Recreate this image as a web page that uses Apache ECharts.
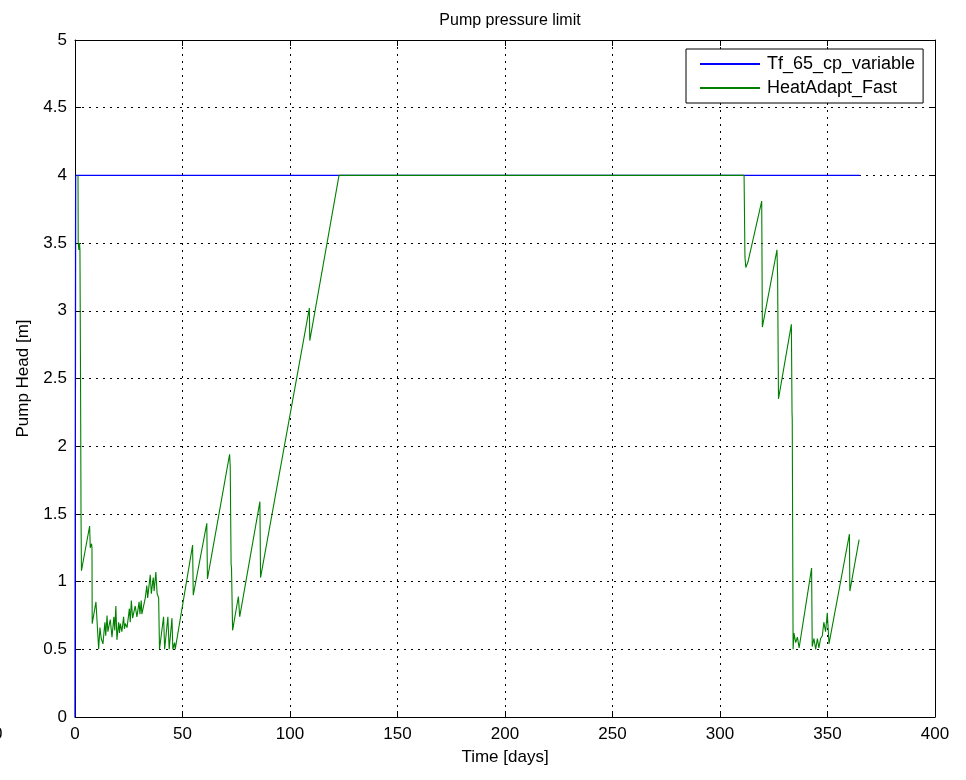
<!DOCTYPE html>
<html><head><meta charset="utf-8">
<script src="https://cdn.jsdelivr.net/npm/echarts@6/dist/echarts.min.js"></script>
<style>html,body{margin:0;padding:0;background:#fff}#c{width:966px;height:780px}</style>
</head><body><div id="c"></div>
<script>
// ---- data ----
const titleText = 'Pump pressure limit';
const xName = 'Time [days]';
const yName = 'Pump Head [m]';
const seriesNames = ['Tf_65_cp_variable', 'HeatAdapt_Fast'];

const blueDays = [0, 0.3, 365];
const blueVals = [0, 4, 4];

const greenDays = [1.4, 1.5, 1.8, 2.1, 2.3, 2.6, 2.8, 3.0,
  6.8, 7.1, 7.7, 7.9, 8.0,
  9.75, 11.0, 11.6, 12.2, 13.0, 13.9, 14.3, 14.9, 15.3, 16.4, 17.2, 18.1, 18.5, 19.0, 19.5,
  20.3, 20.7, 21.1, 21.8, 22.6, 23.0, 23.4, 24.2, 25.3, 25.7, 26.2, 26.8, 28.0, 28.8, 29.8, 30.2, 30.8, 31.1,
  32.7, 33.4, 33.8, 35.0, 35.5, 36.4, 36.8, 37.6, 38.2, 38.9, 39.3,
  41.2, 41.7, 43.2, 43.8, 45.1, 45.5, 46.3, 46.6,
  54.7, 55.0, 61.3, 61.6, 71.9, 72.2, 72.6, 72.8, 73.3,
  76.0, 76.6, 86.0, 86.3, 109.0, 109.2, 122.8,
  311.2, 311.6, 312.0, 313.0, 319.4, 319.7, 326.5, 326.8, 327.2,
  333.2, 333.5, 333.6, 334.0, 334.4, 335.2, 336.0, 336.8,
  342.6, 342.9, 343.7, 344.5, 345.3, 346.0, 346.8, 347.6, 348.3, 349.1, 349.9, 350.7,
  360.2, 360.4, 364.7];
const greenVals = [4.0, 3.5, 3.45, 3.5, 3.45, 2.4, 1.5, 1.08,
  1.41, 1.25, 1.28, 1.25, 0.69,
  0.85, 0.5, 0.66, 0.58, 0.54, 0.70, 0.60, 0.75, 0.63, 0.72, 0.59, 0.74, 0.64, 0.82, 0.57,
  0.70, 0.62, 0.69, 0.63, 0.74, 0.65, 0.69, 0.66, 0.80, 0.70, 0.86, 0.73, 0.82, 0.74, 0.85, 0.76, 0.86, 0.76,
  0.88, 0.97, 0.88, 1.05, 0.91, 1.03, 0.93, 1.07, 0.91, 0.88, 0.5,
  0.74, 0.5, 0.74, 0.5, 0.73, 0.5, 0.55, 0.5,
  1.27, 0.90, 1.43, 1.02, 1.94, 1.85, 1.13, 1.10, 0.64,
  0.89, 0.74, 1.59, 1.03, 3.02, 2.78, 4.0,
  4.0, 3.4, 3.32, 3.36, 3.81, 2.88, 3.45, 3.25, 2.35,
  2.9, 2.25, 2.2, 0.5, 0.62, 0.55, 0.59, 0.51,
  1.10, 0.52, 0.58, 0.5, 0.58, 0.51, 0.58, 0.6, 0.7, 0.63, 0.77, 0.54,
  1.35, 0.93, 1.31];

const xMin = 0, xMax = 400, xStep = 50;
const yMin = 0, yMax = 5, yStep = 0.5;

// ---- chart ----
const FONT = '"Liberation Sans", Arial, sans-serif';
const FS = 17;
const zip = (a, b) => a.map((v, i) => [v, b[i]]);

const chart = echarts.init(document.getElementById('c'), null, {renderer: 'canvas'});

const gridDots = {show: true, lineStyle: {color: '#000', width: 1, type: [2, 5]}};
const baseLine = {show: true, onZero: false, lineStyle: {color: '#000', width: 1}};
const tick = {show: true, inside: true, length: 6, lineStyle: {color: '#000', width: 1}};

chart.setOption({
  animation: false,
  backgroundColor: '#fff',
  title: {
    text: titleText, left: 505, top: 8, textAlign: 'center',
    textStyle: {fontFamily: FONT, fontSize: 16, fontWeight: 'normal', color: '#000'}
  },
  legend: {
    orient: 'vertical', left: 686, top: 49,
    padding: [6, 8, 6, 14], itemGap: 6,
    itemWidth: 60, itemHeight: 2, icon: 'rect',
    borderColor: '#000', borderWidth: 1, backgroundColor: '#fff',
    textStyle: {fontFamily: FONT, fontSize: 18, color: '#000', padding: [0, 0, 0, 2]},
    data: seriesNames
  },
  grid: {left: 75, right: 31, top: 40, bottom: 63, containLabel: false},
  xAxis: [{
    type: 'value', min: xMin, max: xMax, interval: xStep, position: 'bottom',
    axisLine: baseLine, axisTick: tick, splitLine: gridDots,
    axisLabel: {color: '#000', fontFamily: FONT, fontSize: FS, margin: 9},
    name: xName, nameLocation: 'middle', nameGap: 32,
    nameTextStyle: {color: '#000', fontFamily: FONT, fontSize: FS}
  }, {
    type: 'value', min: xMin, max: xMax, interval: xStep, position: 'top',
    axisLine: baseLine, axisTick: tick, splitLine: {show: false},
    axisLabel: {show: false}
  }],
  yAxis: [{
    type: 'value', min: yMin, max: yMax, interval: yStep, position: 'left',
    axisLine: baseLine, axisTick: tick, splitLine: gridDots,
    axisLabel: {color: '#000', fontFamily: FONT, fontSize: FS, margin: 8},
    name: yName, nameLocation: 'middle', nameGap: 43, nameRotate: 90,
    nameTextStyle: {color: '#000', fontFamily: FONT, fontSize: FS}
  }, {
    type: 'value', min: yMin, max: yMax, interval: yStep, position: 'right',
    axisLine: baseLine, axisTick: tick, splitLine: {show: false},
    axisLabel: {show: false}
  }],
  graphic: [{
    type: 'text', left: -7, top: 726,
    style: {text: '0', fontFamily: FONT, fontSize: FS, fill: '#000'}
  }],
  series: [{
    name: seriesNames[0], type: 'line', data: zip(blueDays, blueVals),
    showSymbol: false, symbol: 'none', color: '#0000ff',
    lineStyle: {color: '#0000ff', width: 1.3}
  }, {
    name: seriesNames[1], type: 'line', data: zip(greenDays, greenVals),
    showSymbol: false, symbol: 'none', color: '#008000',
    lineStyle: {color: '#008000', width: 1.1}
  }]
});
</script>
</body></html>
